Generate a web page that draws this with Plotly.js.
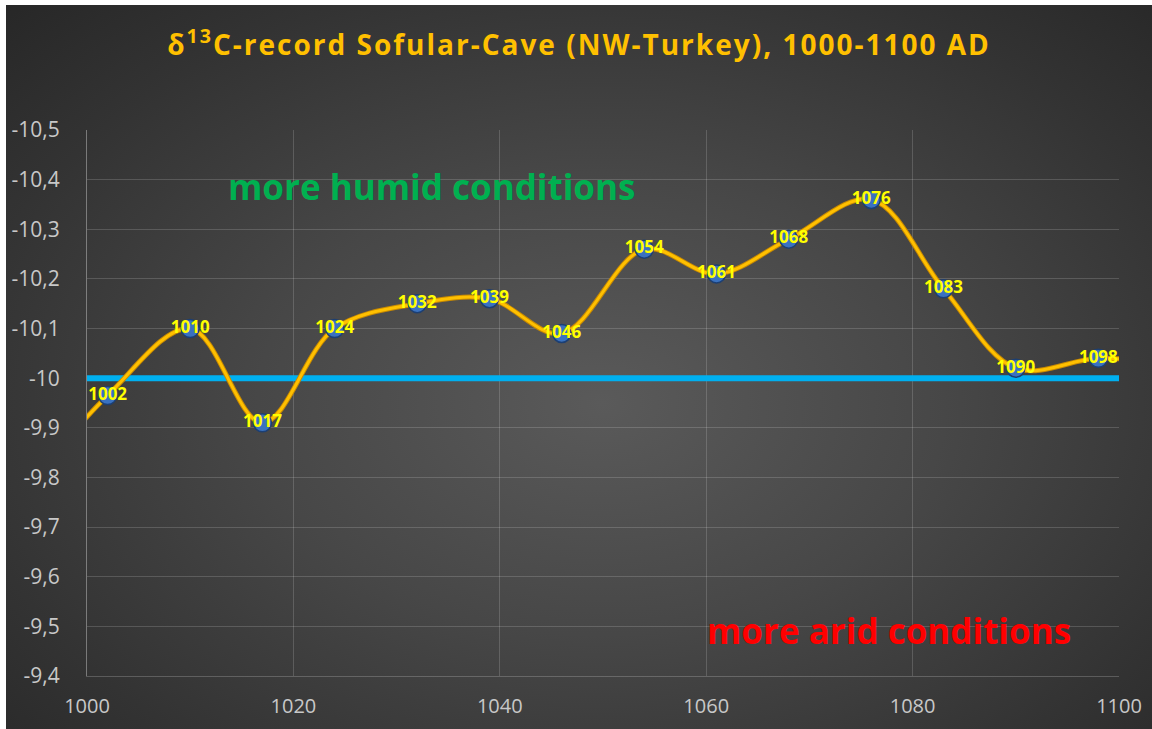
<!DOCTYPE html>
<html>
<head>
<meta charset="utf-8">
<script src="https://cdn.plot.ly/plotly-3.0.1.min.js"></script>
<style>
  html, body { margin: 0; padding: 0; background: #ffffff; }
  #wrap {
    position: absolute; left: 0; top: 0;
    width: 1146px; height: 724px;
    border-top: 5px solid #ffffff; border-left: 6px solid #ffffff;
    background: radial-gradient(ellipse 75% 80% at 52% 55%, #5a5a5a 0%, #474747 40%, #333333 75%, #262626 100%);
  }
  #chart { width: 1146px; height: 724px; }
  #chart .gtitle { letter-spacing: 2px; }
</style>
</head>
<body>
<div id="wrap"><div id="chart"></div></div>
<script>
// Labelled sample years and their δ13C values (‰)
const years = [1002, 1010, 1017, 1024, 1032, 1039, 1046, 1054, 1061, 1068, 1076, 1083, 1090, 1098];
const d13C  = [-9.965, -10.10, -9.91, -10.10, -10.15, -10.16, -10.09, -10.26, -10.21, -10.28, -10.36, -10.18, -10.02, -10.04];
// Neighbouring samples just outside the 1000-1100 window (only the curve reaches into view)
const yearsBefore = [995];
const d13CBefore  = [-9.80];
const yearsAfter  = [1105];
const d13CAfter   = [-10.03];
// Reference level
const refYears = [1000, 1100];
const refValue = [-10, -10];
// Axis ticks
const yTicks = [-10.5, -10.4, -10.3, -10.2, -10.1, -10, -9.9, -9.8, -9.7, -9.6, -9.5, -9.4];
const yTickText = ['-10,5', '-10,4', '-10,3', '-10,2', '-10,1', '-10', '-9,9', '-9,8', '-9,7', '-9,6', '-9,5', '-9,4'];
const xTicks = [1000, 1020, 1040, 1060, 1080, 1100];

const lineX = yearsBefore.concat(years, yearsAfter);
const lineY = d13CBefore.concat(d13C, d13CAfter);

const traces = [
  { x: refYears, y: refValue, mode: 'lines', line: { color: '#00B0F0', width: 6 }, hoverinfo: 'skip', showlegend: false },
  { x: lineX, y: lineY, mode: 'lines', line: { color: '#C88A00', width: 5, shape: 'spline', smoothing: 1 }, hoverinfo: 'skip', showlegend: false },
  { x: lineX, y: lineY, mode: 'lines', line: { color: '#FFC000', width: 3, shape: 'spline', smoothing: 1 }, hoverinfo: 'skip', showlegend: false },
  { x: years, y: d13C, mode: 'markers+text', text: years.map(String), textposition: 'middle center',
    textfont: { family: 'Open Sans', size: 17, color: '#FFFF00', weight: 700 },
    marker: { size: 18, color: '#3A72C0', line: { color: '#1C3F73', width: 1.5 } },
    hoverinfo: 'skip', showlegend: false, cliponaxis: false }
];

const layout = {
  width: 1146, height: 724,
  paper_bgcolor: 'rgba(0,0,0,0)', plot_bgcolor: 'rgba(0,0,0,0)',
  margin: { l: 81, r: 33, t: 125, b: 53 },
  separators: ',.',
  title: {
    text: 'δ<sup>13</sup>C-record Sofular-Cave (NW-Turkey), 1000-1100 AD',
    font: { family: 'Open Sans', size: 28, color: '#FFC000', weight: 700 },
    x: 0.5, xref: 'container', y: 1 - 40 / 724, yref: 'container', yanchor: 'middle', xanchor: 'center'
  },
  xaxis: {
    range: [1000, 1100], tickvals: xTicks, ticktext: xTicks.map(String),
    showgrid: true, gridcolor: 'rgba(255,255,255,0.16)', gridwidth: 1,
    zeroline: false, showline: true, linecolor: 'rgba(255,255,255,0.2)', linewidth: 1,
    ticks: '', ticklabelstandoff: 12,
    tickfont: { family: 'Open Sans', size: 20, color: '#C8C8C8' }
  },
  yaxis: {
    range: [-9.4, -10.5], tickvals: yTicks, ticktext: yTickText,
    showgrid: true, gridcolor: 'rgba(255,255,255,0.16)', gridwidth: 1,
    zeroline: false, showline: true, linecolor: 'rgba(255,255,255,0.35)', linewidth: 1,
    ticks: '', ticklabelstandoff: 22,
    tickfont: { family: 'Open Sans', size: 21, color: '#C8C8C8' }
  },
  annotations: [
    { text: 'more humid conditions', xref: 'paper', yref: 'paper', x: 0.334, y: 0.897,
      xanchor: 'center', yanchor: 'middle', showarrow: false,
      font: { family: 'Open Sans', size: 35, color: '#00B050', weight: 700 } },
    { text: 'more arid conditions', xref: 'paper', yref: 'paper', x: 0.777, y: 0.084,
      xanchor: 'center', yanchor: 'middle', showarrow: false,
      font: { family: 'Open Sans', size: 35, color: '#FF0000', weight: 700 } }
  ]
};

Plotly.newPlot('chart', traces, layout, { staticPlot: true, displayModeBar: false });
</script>
</body>
</html>
